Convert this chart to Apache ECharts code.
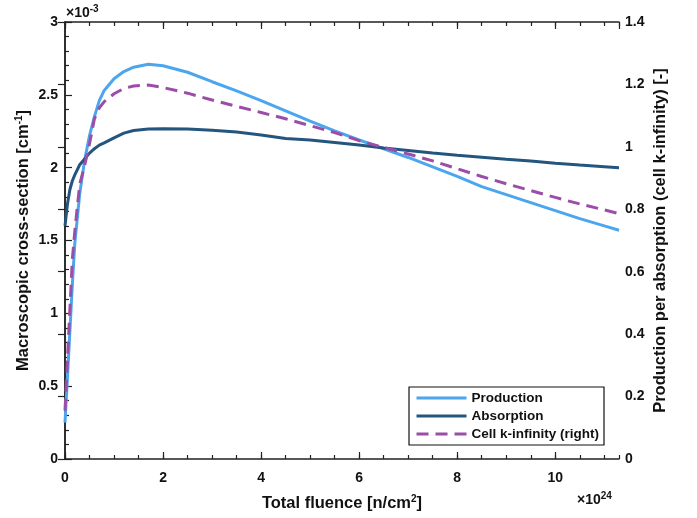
<!DOCTYPE html>
<html>
<head>
<meta charset="utf-8">
<script src="https://cdn.jsdelivr.net/npm/echarts@6/dist/echarts.min.js"></script>
<style>html,body{margin:0;padding:0;background:#fff}#c{width:697px;height:518px}</style>
</head>
<body>
<div id="c"></div>
<script>
// Total fluence (x 1e24 n/cm2)
var fluence = [0, 0.05, 0.1, 0.15, 0.2, 0.3, 0.4, 0.5, 0.6, 0.7, 0.8, 1.0, 1.2, 1.4, 1.7, 2.0, 2.5, 3.0, 3.5, 4.0, 4.5, 5.0, 5.5, 6.0, 6.5, 7.0, 7.5, 8.0, 8.5, 9.0, 9.5, 10.0, 10.5, 11.0, 11.3];
// Production cross-section (x 1e-3 cm^-1)
var production = [0.25, 0.56, 0.88, 1.2, 1.48, 1.82, 2.05, 2.22, 2.35, 2.46, 2.53, 2.61, 2.66, 2.69, 2.71, 2.70, 2.655, 2.59, 2.527, 2.46, 2.39, 2.32, 2.252, 2.19, 2.13, 2.07, 2.005, 1.94, 1.87, 1.815, 1.76, 1.705, 1.65, 1.60, 1.57];
// Absorption cross-section (x 1e-3 cm^-1)
var absorption = [1.60, 1.75, 1.85, 1.91, 1.95, 2.02, 2.06, 2.10, 2.13, 2.155, 2.17, 2.205, 2.237, 2.255, 2.265, 2.268, 2.265, 2.257, 2.245, 2.225, 2.20, 2.19, 2.173, 2.155, 2.135, 2.118, 2.10, 2.085, 2.072, 2.058, 2.045, 2.03, 2.018, 2.007, 2.0];
// Cell k-infinity (right axis)
var kinf = [0.155, 0.32, 0.48, 0.64, 0.73, 0.88, 0.94, 1.01, 1.09, 1.125, 1.145, 1.17, 1.187, 1.195, 1.198, 1.19, 1.172, 1.15, 1.13, 1.11, 1.09, 1.068, 1.046, 1.02, 0.998, 0.977, 0.955, 0.93, 0.905, 0.882, 0.86, 0.838, 0.817, 0.798, 0.786];

function pairs(xs, ys){ return xs.map(function(x,i){ return [x, ys[i]]; }); }

var font = 'Liberation Sans, Arial, Helvetica, sans-serif';
var axisLine = {show:true, lineStyle:{color:'#222', width:1.5}};
var supStyle = {fontSize:10, fontWeight:'bold', fontFamily:font, color:'#111', verticalAlign:'top', padding:[0,0,9,0]};
var chart = echarts.init(document.getElementById('c'), null, {renderer:'canvas'});

var xBase = {type:'value', min:0, max:11.3, splitLine:{show:false}, axisLine:axisLine, nameMoveOverlap:false};
chart.setOption({
  animation:false,
  backgroundColor:'#fff',
  grid:{left:65, right:78, top:22, bottom:59, containLabel:false},
  xAxis:[
    Object.assign({}, xBase, {position:'bottom', interval:2,
      axisTick:{show:true, inside:true, length:7, lineStyle:{color:'#222', width:1.2}},
      axisLabel:{show:true, showMaxLabel:false, color:'#111', fontFamily:font, fontWeight:'bold', fontSize:14, margin:12},
      name:'Total fluence [n/cm{sup|2}]', nameLocation:'middle', nameGap:35,
      nameTextStyle:{color:'#111', fontFamily:font, fontWeight:'bold', fontSize:16.5, rich:{sup:supStyle}}
    }),
    Object.assign({}, xBase, {position:'bottom', interval:0.5,
      axisLine:{show:false}, axisLabel:{show:false},
      axisTick:{show:true, inside:true, length:4, lineStyle:{color:'#222', width:1.2}}}),
    Object.assign({}, xBase, {position:'top', interval:2, axisLabel:{show:false},
      axisTick:{show:true, inside:true, length:7, lineStyle:{color:'#222', width:1.2}}}),
    Object.assign({}, xBase, {position:'top', interval:0.5, axisLine:{show:false}, axisLabel:{show:false},
      axisTick:{show:true, inside:true, length:4, lineStyle:{color:'#222', width:1.2}}})
  ],
  yAxis:[
    {type:'value', min:0, max:3, interval:0.5, position:'left', splitLine:{show:false}, axisLine:axisLine, nameMoveOverlap:false,
      axisTick:{show:true, inside:true, length:7, lineStyle:{color:'#222', width:1.2}},
      minorTick:{show:true, splitNumber:5, length:4, lineStyle:{color:'#222', width:1.2}},
      axisLabel:{color:'#111', fontFamily:font, fontWeight:'bold', fontSize:14, margin:7},
      name:'Macroscopic cross-section [cm{sup|-1}]', nameLocation:'middle', nameGap:32,
      nameTextStyle:{color:'#111', fontFamily:font, fontWeight:'bold', fontSize:16.5, rich:{sup:supStyle}}
    },
    {type:'value', min:0, max:1.4, interval:0.2, position:'right', splitLine:{show:false}, axisLine:axisLine, nameMoveOverlap:false,
      axisTick:{show:true, inside:true, length:7, lineStyle:{color:'#222', width:1.2}},
      axisLabel:{color:'#111', fontFamily:font, fontWeight:'bold', fontSize:14, margin:6},
      name:'Production per absorption (cell k-infinity) [-]', nameLocation:'middle', nameGap:33, nameRotate:90,
      nameTextStyle:{color:'#111', fontFamily:font, fontWeight:'bold', fontSize:16.5}
    }
  ],
  legend:{
    right:93, bottom:73, orient:'vertical', backgroundColor:'#fff', borderColor:'#111', borderWidth:1.2,
    padding:[4,5,4,6], itemGap:4, itemWidth:50, itemHeight:14,
    itemStyle:{opacity:0},
    lineStyle:{width:3},
    textStyle:{color:'#111', fontFamily:font, fontWeight:'bold', fontSize:13.5},
    data:['Production','Absorption','Cell k-infinity (right)']
  },
  graphic:[
    {type:'text', left:66, top:4, style:{text:'×10{sup|-3}', fill:'#111', font:'bold 14px '+font,
      rich:{sup:{fontSize:10, fontWeight:'bold', fontFamily:font, fill:'#111', verticalAlign:'top', padding:[0,0,9,0]}}}},
    {type:'text', left:577, top:491, style:{text:'×10{sup|24}', fill:'#111', font:'bold 14px '+font,
      rich:{sup:{fontSize:10, fontWeight:'bold', fontFamily:font, fill:'#111', verticalAlign:'top', padding:[0,0,9,0]}}}}
  ],
  series:[
    {name:'Production', type:'line', xAxisIndex:0, yAxisIndex:0, data:pairs(fluence, production), symbol:'none', smooth:false,
      lineStyle:{color:'#4BA6EE', width:3}, itemStyle:{color:'#4BA6EE'}},
    {name:'Absorption', type:'line', xAxisIndex:0, yAxisIndex:0, data:pairs(fluence, absorption), symbol:'none',
      lineStyle:{color:'#24557E', width:3}, itemStyle:{color:'#24557E'}},
    {name:'Cell k-infinity (right)', type:'line', xAxisIndex:0, yAxisIndex:1, data:pairs(fluence, kinf), symbol:'none',
      lineStyle:{color:'#9B4DA8', width:3, type:[12,7]}, itemStyle:{color:'#9B4DA8'}}
  ]
});
</script>
</body>
</html>
